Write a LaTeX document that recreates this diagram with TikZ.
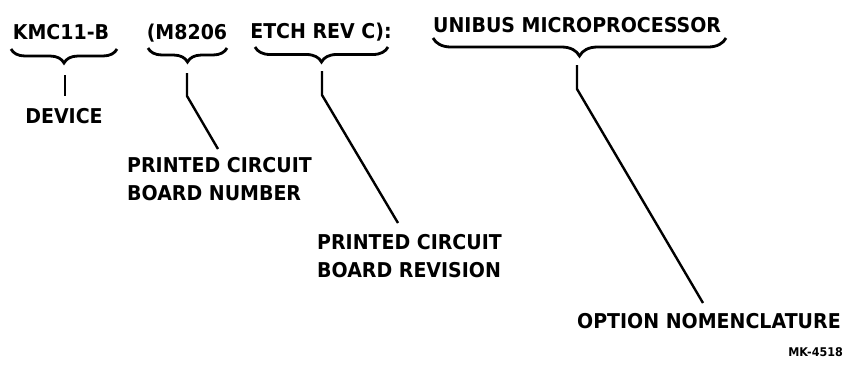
\documentclass[tikz,border=0pt]{standalone}
\usepackage{fontspec}
\setmainfont{DejaVu Sans}[BoldFont={DejaVu Sans Bold}, BoldFeatures={FakeStretch=0.93}]
\usetikzlibrary{decorations.pathreplacing}
\begin{document}
\begin{tikzpicture}[x=1pt,y=-1pt,
  lbl/.style={font=\fontsize{20.4}{28}\selectfont\bfseries, inner sep=0pt},
  small/.style={font=\fontsize{12}{14}\selectfont\bfseries, inner sep=0pt},
  brc/.style={decorate, decoration={brace, mirror, amplitude=#1}, line width=2.8pt},
  brc/.default=14pt,
  lead/.style={line width=2.4pt, line join=round}]
\useasboundingbox (0,0) rectangle (850,368);

% top labels
\node[lbl, anchor=base] (kmc) at (61,39) {KMC11-B};
\node[lbl, anchor=base] (m8206) at (187,39) {(M8206};
\node[lbl, anchor=base] (etch) at (321,38) {ETCH REV C):};
\node[lbl, anchor=base west] (unibus) at (433,32) {UNIBUS MICROPROCESSOR};

% braces
\coordinate (b1l) at (11,49);  \coordinate (b1r) at (117,49);
\coordinate (b2l) at (148,48); \coordinate (b2r) at (227,48);
\coordinate (b3l) at (255,47); \coordinate (b3r) at (388,47);
\coordinate (b4l) at (433,38); \coordinate (b4r) at (726,38);
\draw[brc] (b1l) -- (b1r);
\draw[brc] (b2l) -- (b2r);
\draw[brc=15pt] (b3l) -- (b3r);
\draw[brc=18pt] (b4l) -- (b4r);

% lower labels
\node[lbl, anchor=base] (dev) at (64,123) {DEVICE};
\node[lbl, anchor=north west, align=left] (pcbn) at (127,157) {PRINTED CIRCUIT\\BOARD NUMBER};
\node[lbl, anchor=north west, align=left] (pcbr) at (317,234) {PRINTED CIRCUIT\\BOARD REVISION};
\node[lbl, anchor=base west] (opt) at (577,328) {OPTION NOMENCLATURE};
\node[small, anchor=base east] (mk) at (843,356) {MK-4518};

% leader lines
\coordinate (s1) at (65,75);  \coordinate (e1) at (65,96);
\coordinate (s2) at (187,73); \coordinate (k2) at (187,96);  \coordinate (e2) at (218,149);
\coordinate (s3) at (322,71); \coordinate (k3) at (322,95);  \coordinate (e3) at (398,223);
\coordinate (s4) at (577,65); \coordinate (k4) at (577,89);  \coordinate (e4) at (703,303);
\draw[lead] (s1) -- (e1);
\draw[lead] (s2) -- (k2) -- (e2);
\draw[lead] (s3) -- (k3) -- (e3);
\draw[lead] (s4) -- (k4) -- (e4);
\end{tikzpicture}
\end{document}
